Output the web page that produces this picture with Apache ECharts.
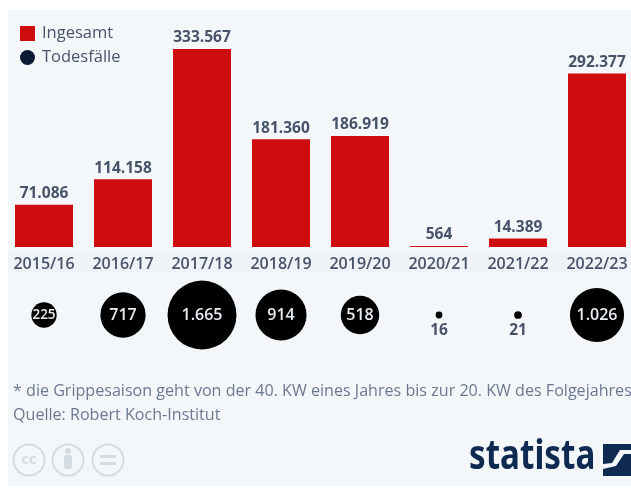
<!DOCTYPE html>
<html>
<head>
<meta charset="utf-8">
<script src="https://cdn.jsdelivr.net/npm/echarts@6/dist/echarts.min.js"></script>
<style>
html, body { margin: 0; padding: 0; background: #fff; overflow: hidden; }
#chart { width: 631px; height: 488px; }
</style>
</head>
<body>
<div id="chart"></div>
<script>
var seasons = ['2015/16', '2016/17', '2017/18', '2018/19', '2019/20', '2020/21', '2021/22', '2022/23'];
var gesamt = [71086, 114158, 333567, 181360, 186919, 564, 14389, 292377];
var gesamtLabels = ['71.086', '114.158', '333.567', '181.360', '186.919', '564', '14.389', '292.377'];
var todesfaelle = [225, 717, 1665, 914, 518, 16, 21, 1026];
var todesLabels = ['225', '717', '1.665', '914', '518', '16', '21', '1.026'];

var font = '"Open Sans", sans-serif';
var textColor = '#47536b';
var logoBlue = '#0f2a50';

function ccIcon(cx, inner) {
    return {
        type: 'group',
        children: [{
            type: 'circle',
            shape: { cx: cx, cy: 460, r: 15.5 },
            style: { fill: 'none', stroke: '#d3dce2', lineWidth: 2 }
        }].concat(inner)
    };
}

var chart = echarts.init(document.getElementById('chart'));
chart.setOption({
    animation: false,
    backgroundColor: '#fff',
    textStyle: { fontFamily: font },
    legend: {
        left: 15,
        top: 20,
        orient: 'vertical',
        itemWidth: 15,
        itemHeight: 15,
        itemGap: 7,
        selectedMode: false,
        textStyle: { color: textColor, fontSize: 16.5, fontFamily: font, padding: [0, 0, 0, 2] },
        data: [
            { name: 'Ingesamt', icon: 'rect' },
            { name: 'Todesfälle', icon: 'circle', itemStyle: { color: '#0b1a33' } }
        ]
    },
    grid: [
        { left: 4.5, top: 49, width: 632, height: 198, outerBoundsMode: 'none' },
        { left: 4.5, top: 314, width: 632, height: 1, outerBoundsMode: 'none' }
    ],
    xAxis: [{
        type: 'category',
        gridIndex: 0,
        data: seasons,
        axisLine: { show: false },
        axisTick: { show: false },
        axisLabel: { interval: 0, color: textColor, fontSize: 16, fontWeight: 600, margin: 9, fontFamily: font, hideOverlap: false }
    }, {
        type: 'category',
        gridIndex: 1,
        data: seasons,
        show: false
    }],
    yAxis: [
        { type: 'value', gridIndex: 0, min: 0, max: 333567, show: false },
        { type: 'value', gridIndex: 1, min: 0, max: 1, show: false }
    ],
    series: [{
        name: 'Ingesamt',
        type: 'bar',
        barWidth: 58,
        barMinHeight: 1,
        itemStyle: { color: '#cf0d0f' },
        data: gesamt,
        label: {
            show: true,
            position: 'top',
            distance: 3,
            color: textColor,
            fontSize: 15.5,
            fontWeight: 700,
            fontFamily: font,
            formatter: function (p) { return gesamtLabels[p.dataIndex]; }
        }
    }, {
        name: 'Todesfälle',
        type: 'scatter',
        xAxisIndex: 1,
        yAxisIndex: 1,
        symbol: 'circle',
        symbolSize: function (v, p) { return Math.sqrt(todesfaelle[p.dataIndex]) * 1.69; },
        itemStyle: { color: '#000', opacity: 1 },
        data: todesfaelle.map(function (v, i) {
            var small = v < 100;
            return {
                value: 0,
                label: {
                    show: true,
                    position: small ? 'bottom' : 'inside',
                    distance: 4,
                    color: small ? textColor : '#e8edf2',
                    fontSize: v < 300 ? (small ? 15.5 : 13.5) : 16,
                    fontWeight: small ? 700 : 600,
                    fontFamily: font,
                    formatter: todesLabels[i]
                }
            };
        })
    }],
    graphic: [
        { type: 'rect', z: -10, shape: { x: 8, y: 10, width: 623, height: 476 }, style: { fill: '#f3f7fa' } },
        { type: 'rect', z: -9, shape: { x: 8, y: 253, width: 623, height: 20 }, style: { fill: '#eff2f7' } },
        { type: 'text', x: 13, y: 383, style: { text: '* die Grippesaison geht von der 40. KW eines Jahres bis zur 20. KW des Folgejahres', fill: '#6b7890', font: '16.1px ' + font } },
        { type: 'text', x: 13, y: 407, style: { text: 'Quelle: Robert Koch-Institut', fill: '#6b7890', font: '16.1px ' + font } },
        ccIcon(29, [{ type: 'text', x: 29, y: 460, style: { text: 'cc', fill: '#d3dce2', font: 'bold 15px ' + font, align: 'center', verticalAlign: 'middle' } }]),
        ccIcon(68, [
            { type: 'circle', shape: { cx: 68, cy: 451, r: 3 }, style: { fill: '#d3dce2' } },
            { type: 'rect', shape: { x: 64, y: 455, width: 8, height: 14, r: 2 }, style: { fill: '#d3dce2' } }
        ]),
        ccIcon(108, [
            { type: 'rect', shape: { x: 100, y: 455, width: 16, height: 3 }, style: { fill: '#d3dce2' } },
            { type: 'rect', shape: { x: 100, y: 462, width: 16, height: 3 }, style: { fill: '#d3dce2' } }
        ]),
        { type: 'text', x: 469, y: 437, scaleX: 0.81, style: { text: 'statista', fill: logoBlue, font: 'bold 41px "Noto Sans", sans-serif' } },
        { type: 'polygon', shape: { points: [[603, 444], [631, 444], [631, 450], [620, 450], [612, 463], [603, 464]] }, style: { fill: logoBlue } },
        { type: 'polygon', shape: { points: [[603, 476], [631, 476], [631, 454], [624, 454], [616, 466], [603, 469]] }, style: { fill: logoBlue } }
    ]
});
</script>
</body>
</html>
